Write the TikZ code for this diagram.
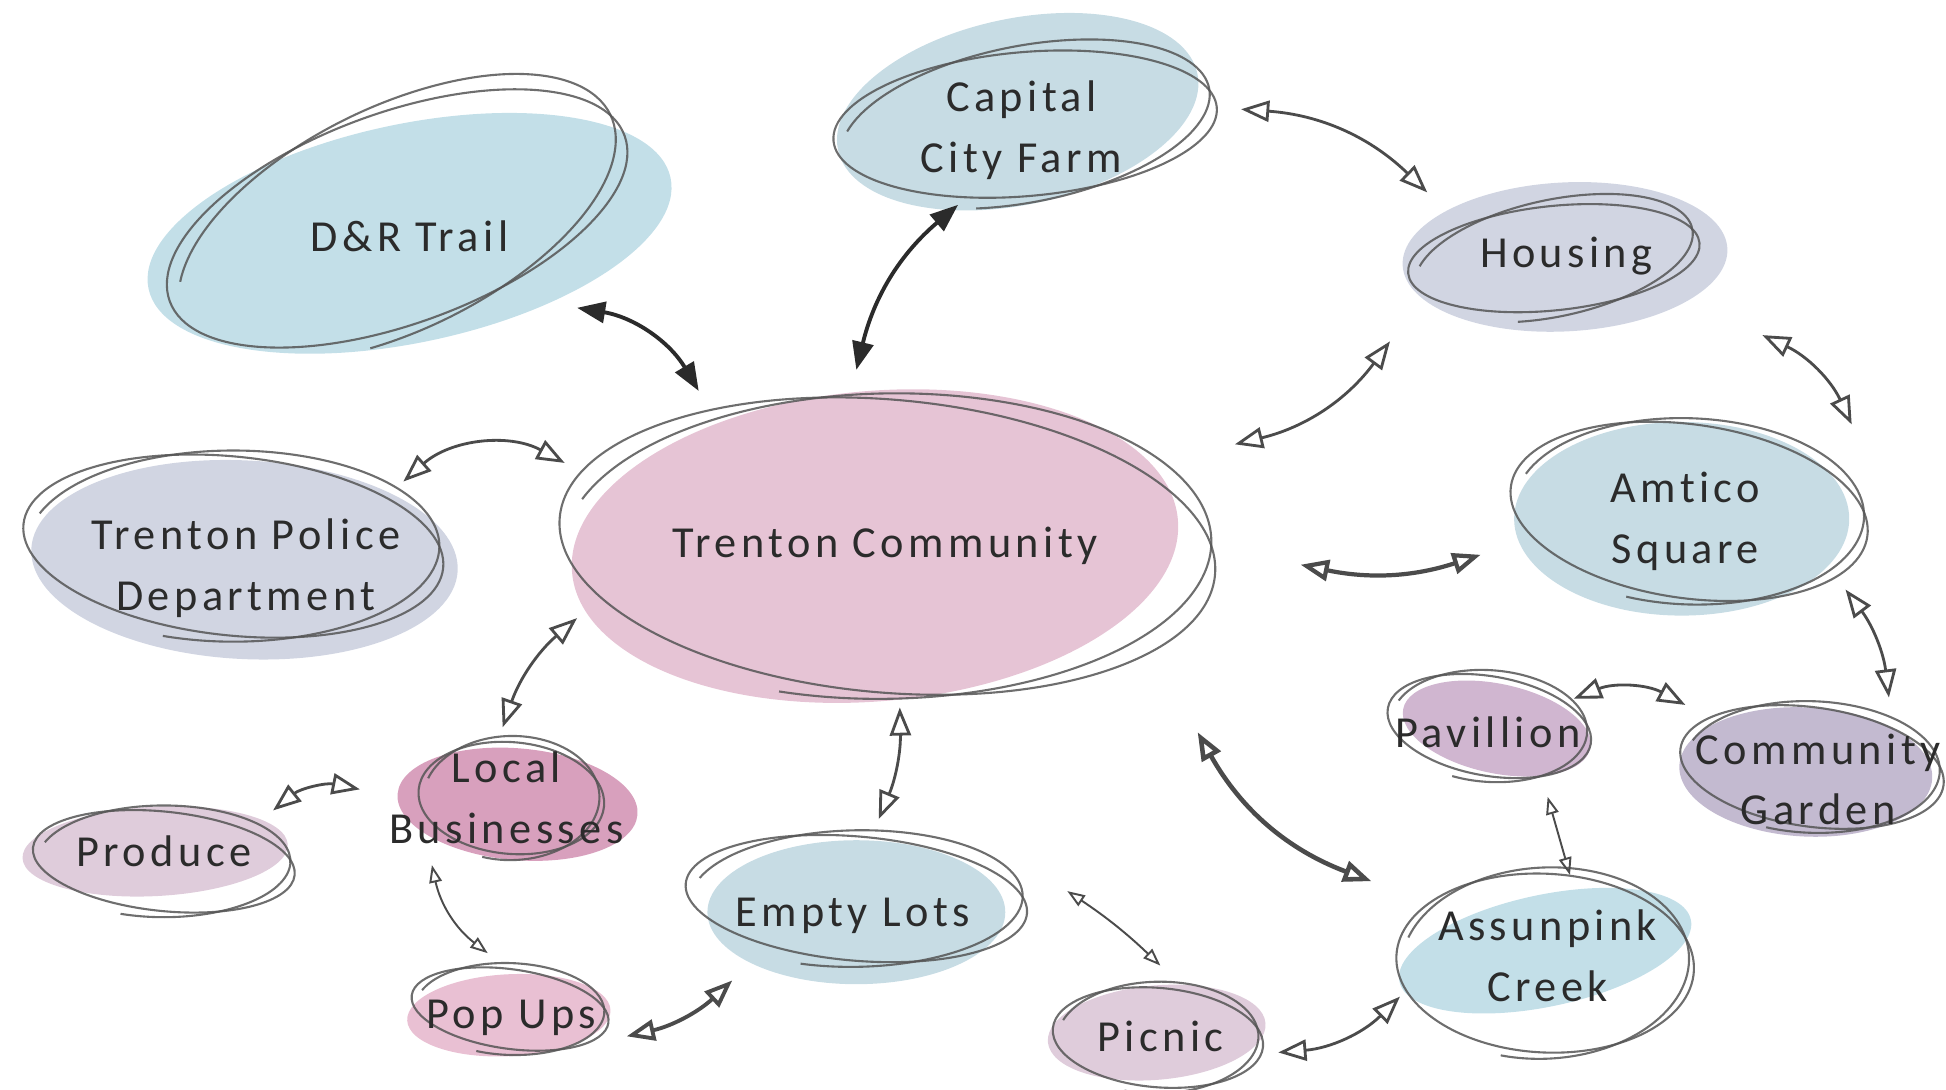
\documentclass[tikz,border=0pt]{standalone}
\usepackage{fontspec}
\usetikzlibrary{arrows.meta}

\newfontfamily\lblfont{Carlito}[LetterSpace=10, Ligatures=NoCommon]

\definecolor{ink}{HTML}{2B2B2B}
\definecolor{pencil}{HTML}{555555}
\definecolor{skyblue}{HTML}{C3DFE8}
\definecolor{bluegray}{HTML}{C7DCE4}
\definecolor{lav}{HTML}{D1D5E2}
\definecolor{pinkfill}{HTML}{E6C4D5}
\definecolor{popfill}{HTML}{E9C0D3}
\definecolor{rose}{HTML}{D8A0BD}
\definecolor{mauve}{HTML}{DFCCDB}
\definecolor{plum}{HTML}{D0B6D0}
\definecolor{iris}{HTML}{C3BAD0}

% coloured wash under a bubble: colour, centre, a, b, tilt
\newcommand{\blob}[5]{\fill[#1, rotate around={#5:(#2)}] (#2) ellipse ({#3} and {#4});}
% pencil loop round a bubble: centre, a, b, tilt
\newcommand{\scribble}[4]{%
  \draw[sketch, rotate around={#4:(#1)}] (#1) ellipse ({#2} and {#3});
  \draw[sketch, rotate around={#4+6:(#1)}] (#1) ++({(#2-4)*cos(200)},{(#3+5)*sin(200)})
    arc[start angle=200, end angle=470, x radius=#2-4, y radius=#3+5];}

\begin{document}
\begin{tikzpicture}[x=0.012411cm, y=-0.012411cm,
    bubbletext/.style={font=\lblfont\fontsize{12.6}{17.3}\selectfont, align=center, text=ink, inner sep=0pt},
    sketch/.style={draw=pencil, line width=0.6pt, opacity=0.85},
    link/.style={{Triangle[open,length=8pt,width=6pt]}-{Triangle[open,length=8pt,width=6pt]}, draw=ink!85, line width=0.8pt},
    boldlink/.style={{Triangle[length=8pt,width=6pt]}-{Triangle[length=8pt,width=6pt]}, draw=ink, line width=1.1pt},
    finelink/.style={{Triangle[open,length=5pt,width=3.6pt]}-{Triangle[open,length=5pt,width=3.6pt]}, draw=ink!85, line width=0.55pt}]

    \useasboundingbox (0,0) rectangle (1568,878);

    % coloured washes
    \blob{skyblue}{330,188}{215}{88}{12}
    \blob{bluegray}{820,90}{148}{75}{12}
    \blob{lav}{1261,207}{131}{60}{3}
    \blob{pinkfill}{705,440}{245}{125}{5}
    \blob{lav}{197,451}{172}{80}{-3}
    \blob{bluegray}{1355,418}{135}{78}{0}
    \blob{rose}{417,648}{97}{45}{-5}
    \blob{mauve}{125,686}{107}{36}{3}
    \blob{popfill}{410,818}{82}{33}{3}
    \blob{bluegray}{690,735}{120}{58}{0}
    \blob{mauve}{932,832}{88}{38}{5}
    \blob{skyblue}{1245,766}{120}{45}{12}
    \blob{plum}{1206,587}{77}{36}{-12}
    \blob{iris}{1455,622}{102}{52}{-3}

    % pencil loops
    \scribble{320,176}{195}{85}{20}
    \scribble{826,100}{155}{58}{5}
    \scribble{1252,208}{118}{42}{6}
    \scribble{715,440}{265}{118}{-5}
    \scribble{188,440}{170}{72}{-6}
    \scribble{1361,412}{145}{70}{-8}
    \scribble{412,643}{75}{45}{-5}
    \scribble{132,694}{106}{40}{-6}
    \scribble{411,813}{80}{32}{-8}
    \scribble{690,724}{138}{50}{-5}
    \scribble{933,836}{85}{40}{-5}
    \scribble{1245,776}{120}{72}{-3}
    \scribble{1200,585}{83}{40}{-10}
    \scribble{1460,618}{107}{48}{-8}

    % labels
    \node[bubbletext] (trail) at (330,190) {D\&R Trail};
    \node[bubbletext] (farm) at (823,105) {Capital\\City Farm};
    \node[bubbletext] (housing) at (1262,206) {Housing};
    \node[bubbletext] (comm) at (713,440) {Trenton Community};
    \node[bubbletext] (police) at (198,458) {Trenton Police\\Department};
    \node[bubbletext] (amtico) at (1358,420) {Amtico\\Square};
    \node[bubbletext] (local) at (408,643) {Local\\Businesses};
    \node[bubbletext] (produce) at (132,686) {Produce};
    \node[bubbletext] (popups) at (412,820) {Pop Ups};
    \node[bubbletext] (lots) at (687,738) {Empty Lots};
    \node[bubbletext] (picnic) at (935,835) {Picnic};
    \node[bubbletext] (creek) at (1247,770) {Assunpink\\Creek};
    \node[bubbletext] (pavilion) at (1199,590) {Pavillion};
    \node[bubbletext] (garden) at (1465,628) {Community\\Garden};

    % two-way links
    \draw[boldlink] ([shift={(135,58)}]trail.center) to[bend left=25] ([shift={(-150,-125)}]comm.center);
    \draw[boldlink] ([shift={(-51,60)}]farm.center) to[bend right=18] ([shift={(-23,-142)}]comm.center);
    \draw[link] ([shift={(177,-17)}]farm.center) to[bend left=20] ([shift={(-112,-51)}]housing.center);
    \draw[link] ([shift={(-142,69)}]housing.center) to[bend left=20] ([shift={(282,-82)}]comm.center);
    \draw[link] ([shift={(158,64)}]housing.center) to[bend left=20] ([shift={(134,-78)}]amtico.center);
    \draw[link, line width=1.2pt] ([shift={(335,15)}]comm.center) to[bend right=15] ([shift={(-165,27)}]amtico.center);
    \draw[link] ([shift={(127,-70)}]police.center) to[bend left=35] ([shift={(-258,-67)}]comm.center);
    \draw[link] ([shift={(-248,58)}]comm.center) to[bend right=15] ([shift={(-3,-57)}]local.center);
    \draw[link] ([shift={(-118,-7)}]local.center) to[bend right=25] ([shift={(88,-33)}]produce.center);
    \draw[finelink] ([shift={(-60,54)}]local.center) to[bend right=20] ([shift={(-19,-52)}]popups.center);
    \draw[link] ([shift={(12,130)}]comm.center) to[bend left=12] ([shift={(21,-78)}]lots.center);
    \draw[link, line width=1.1pt] ([shift={(-97,52)}]lots.center) to[bend left=15] ([shift={(93,15)}]popups.center);
    \draw[finelink] ([shift={(173,-20)}]lots.center) to[bend left=5] ([shift={(0,-57)}]picnic.center);
    \draw[link] ([shift={(95,13)}]picnic.center) to[bend right=20] ([shift={(-119,33)}]creek.center);
    \draw[link, line width=1.3pt] ([shift={(252,150)}]comm.center) to[bend right=20] ([shift={(-142,-60)}]creek.center);
    \draw[finelink] ([shift={(18,-65)}]creek.center) -- ([shift={(48,52)}]pavilion.center);
    \draw[link] ([shift={(69,-27)}]pavilion.center) to[bend left=25] ([shift={(-107,-60)}]garden.center);
    \draw[link] ([shift={(129,55)}]amtico.center) to[bend left=15] ([shift={(57,-66)}]garden.center);
\end{tikzpicture}
\end{document}
